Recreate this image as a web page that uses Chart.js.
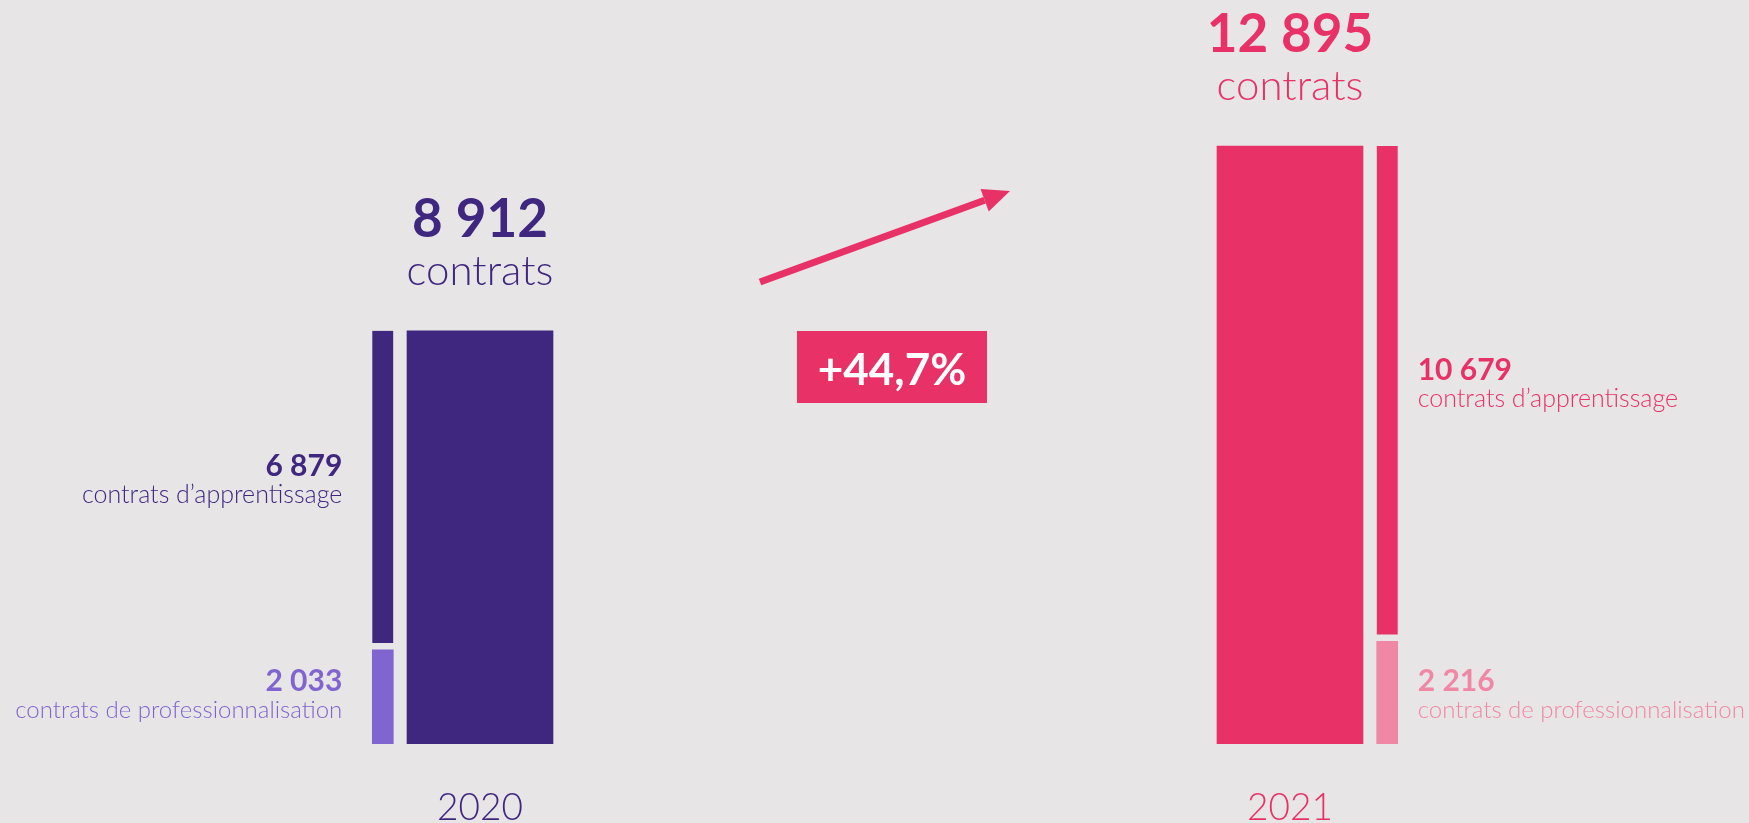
<!DOCTYPE html>
<html lang="fr">
<head>
<meta charset="utf-8">
<title>Contrats 2020 - 2021</title>
<script src="https://cdn.jsdelivr.net/npm/chart.js@4/dist/chart.umd.min.js"></script>
<style>
    html, body {
        margin: 0;
        padding: 0;
        background: #e7e5e6;
    }
    #wrap {
        width: 1749px;
        height: 823px;
    }
</style>
</head>
<body>
<div id="wrap">
    <canvas id="contratsChart" width="1749" height="823"></canvas>
</div>
<script>
// Données
const years = [2020, 2021];
const yearLabels = ["2020", "2021"];
const totals = [8912, 12895];
const apprentissage = [6879, 10679];
const professionnalisation = [2033, 2216];

const totalText = "contrats";
const apprText = "contrats d\u2019apprentissage";
const proText = "contrats de professionnalisation";

// Couleurs
const bgColor = "#e7e5e6";
const mainColors = ["#3f2780", "#e83267"];
const proColors = ["#8064cf", "#f087a5"];

// Barre fine à gauche en 2020, à droite en 2021
const thinOffsets = [-0.12, 0.12];
const thinSide = ["left", "right"];
const thinWidth = 21;

const FONT = "Lato, 'DejaVu Sans', sans-serif";

function fmt(v) {
    return String(v).replace(/\B(?=(\d{3})+(?!\d))/g, " ");
}

let growth =
    (totals[1] - totals[0]) / totals[0] * 100;
let growthText =
    "+" + growth.toFixed(1).replace(".", ",") + "%";

// Textes, flèche et badge
const labelsPlugin = {
    id: "labelsPlugin",
    afterDatasetsDraw(chart) {
        const ctx = chart.ctx;
        const xs = chart.scales.x;
        const ys = chart.scales.y;
        const base = ys.getPixelForValue(0);

        ctx.save();

        years.forEach((year, i) => {
            let cx = xs.getPixelForValue(year);
            let top = ys.getPixelForValue(totals[i]);

            // total
            ctx.fillStyle = mainColors[i];
            ctx.textAlign = "center";
            ctx.textBaseline = "alphabetic";
            ctx.font = "bold 53px " + FONT;
            ctx.fillText(fmt(totals[i]), cx, top - 94);
            ctx.font = "300 42px " + FONT;
            ctx.fillText(totalText, cx, top - 46);

            // année
            ctx.font = "300 37px " + FONT;
            ctx.fillText(yearLabels[i], cx, 820);

            // labels de la barre fine
            let tx = xs.getPixelForValue(year + thinOffsets[i]);
            let lx;
            if (thinSide[i] === "left") {
                ctx.textAlign = "right";
                lx = tx - thinWidth / 2 - 30;
            } else {
                ctx.textAlign = "left";
                lx = tx + thinWidth / 2 + 20;
            }

            let proTop = ys.getPixelForValue(professionnalisation[i]);
            let apprTop = ys.getPixelForValue(
                professionnalisation[i] + apprentissage[i]
            );
            let apprMid = (apprTop + proTop) / 2;

            ctx.fillStyle = mainColors[i];
            ctx.font = "bold 30px " + FONT;
            ctx.fillText(fmt(apprentissage[i]), lx, apprMid - 14);
            ctx.font = "300 25px " + FONT;
            ctx.fillText(apprText, lx, apprMid + 13);

            ctx.fillStyle = proColors[i];
            ctx.font = "bold 30px " + FONT;
            ctx.fillText(fmt(professionnalisation[i]), lx, base - 53);
            ctx.font = "300 24px " + FONT;
            ctx.fillText(proText, lx, base - 26);
        });

        // flèche
        let sx = 760, sy = 282;
        let ex = 1010, ey = 191;
        let len = Math.hypot(ex - sx, ey - sy);
        let ux = (ex - sx) / len, uy = (ey - sy) / len;
        let bx = ex - ux * 27, by = ey - uy * 27;

        ctx.strokeStyle = mainColors[1];
        ctx.lineWidth = 7;
        ctx.beginPath();
        ctx.moveTo(sx, sy);
        ctx.lineTo(bx, by);
        ctx.stroke();

        ctx.fillStyle = mainColors[1];
        ctx.beginPath();
        ctx.moveTo(ex, ey);
        ctx.lineTo(bx - uy * 12, by + ux * 12);
        ctx.lineTo(bx + uy * 12, by - ux * 12);
        ctx.closePath();
        ctx.fill();

        // badge
        ctx.fillRect(797, 331, 190, 72);
        ctx.fillStyle = "#ffffff";
        ctx.textAlign = "center";
        ctx.font = "bold 44px " + FONT;
        ctx.fillText(growthText, 892, 385);

        ctx.restore();
    }
};

const canvas = document.getElementById("contratsChart");

new Chart(canvas, {
    type: "bar",
    data: {
        datasets: [
            {
                label: "Total",
                data: years.map((y, i) => ({ x: y, y: totals[i] })),
                backgroundColor: mainColors,
                barThickness: 146,
                stack: "total"
            },
            {
                label: "Professionnalisation",
                data: years.map((y, i) => ({
                    x: y + thinOffsets[i],
                    y: professionnalisation[i]
                })),
                backgroundColor: proColors,
                barThickness: thinWidth,
                stack: "detail"
            },
            {
                label: "Apprentissage",
                data: years.map((y, i) => ({
                    x: y + thinOffsets[i],
                    y: apprentissage[i]
                })),
                backgroundColor: mainColors,
                borderColor: bgColor,
                borderWidth: { top: 0, left: 0, right: 0, bottom: 7 },
                borderSkipped: false,
                barThickness: thinWidth,
                stack: "detail"
            }
        ]
    },
    options: {
        responsive: false,
        animation: false,
        devicePixelRatio: 1,
        layout: {
            padding: { left: 75, right: 54, top: 2, bottom: 79 }
        },
        datasets: {
            bar: { grouped: false }
        },
        plugins: {
            legend: { display: false },
            tooltip: { enabled: false }
        },
        scales: {
            x: {
                type: "linear",
                display: false,
                offset: false,
                min: 2019.5,
                max: 2021.5
            },
            y: {
                display: false,
                stacked: true,
                min: 0,
                max: 16000
            }
        }
    },
    plugins: [labelsPlugin]
});
</script>
</body>
</html>
